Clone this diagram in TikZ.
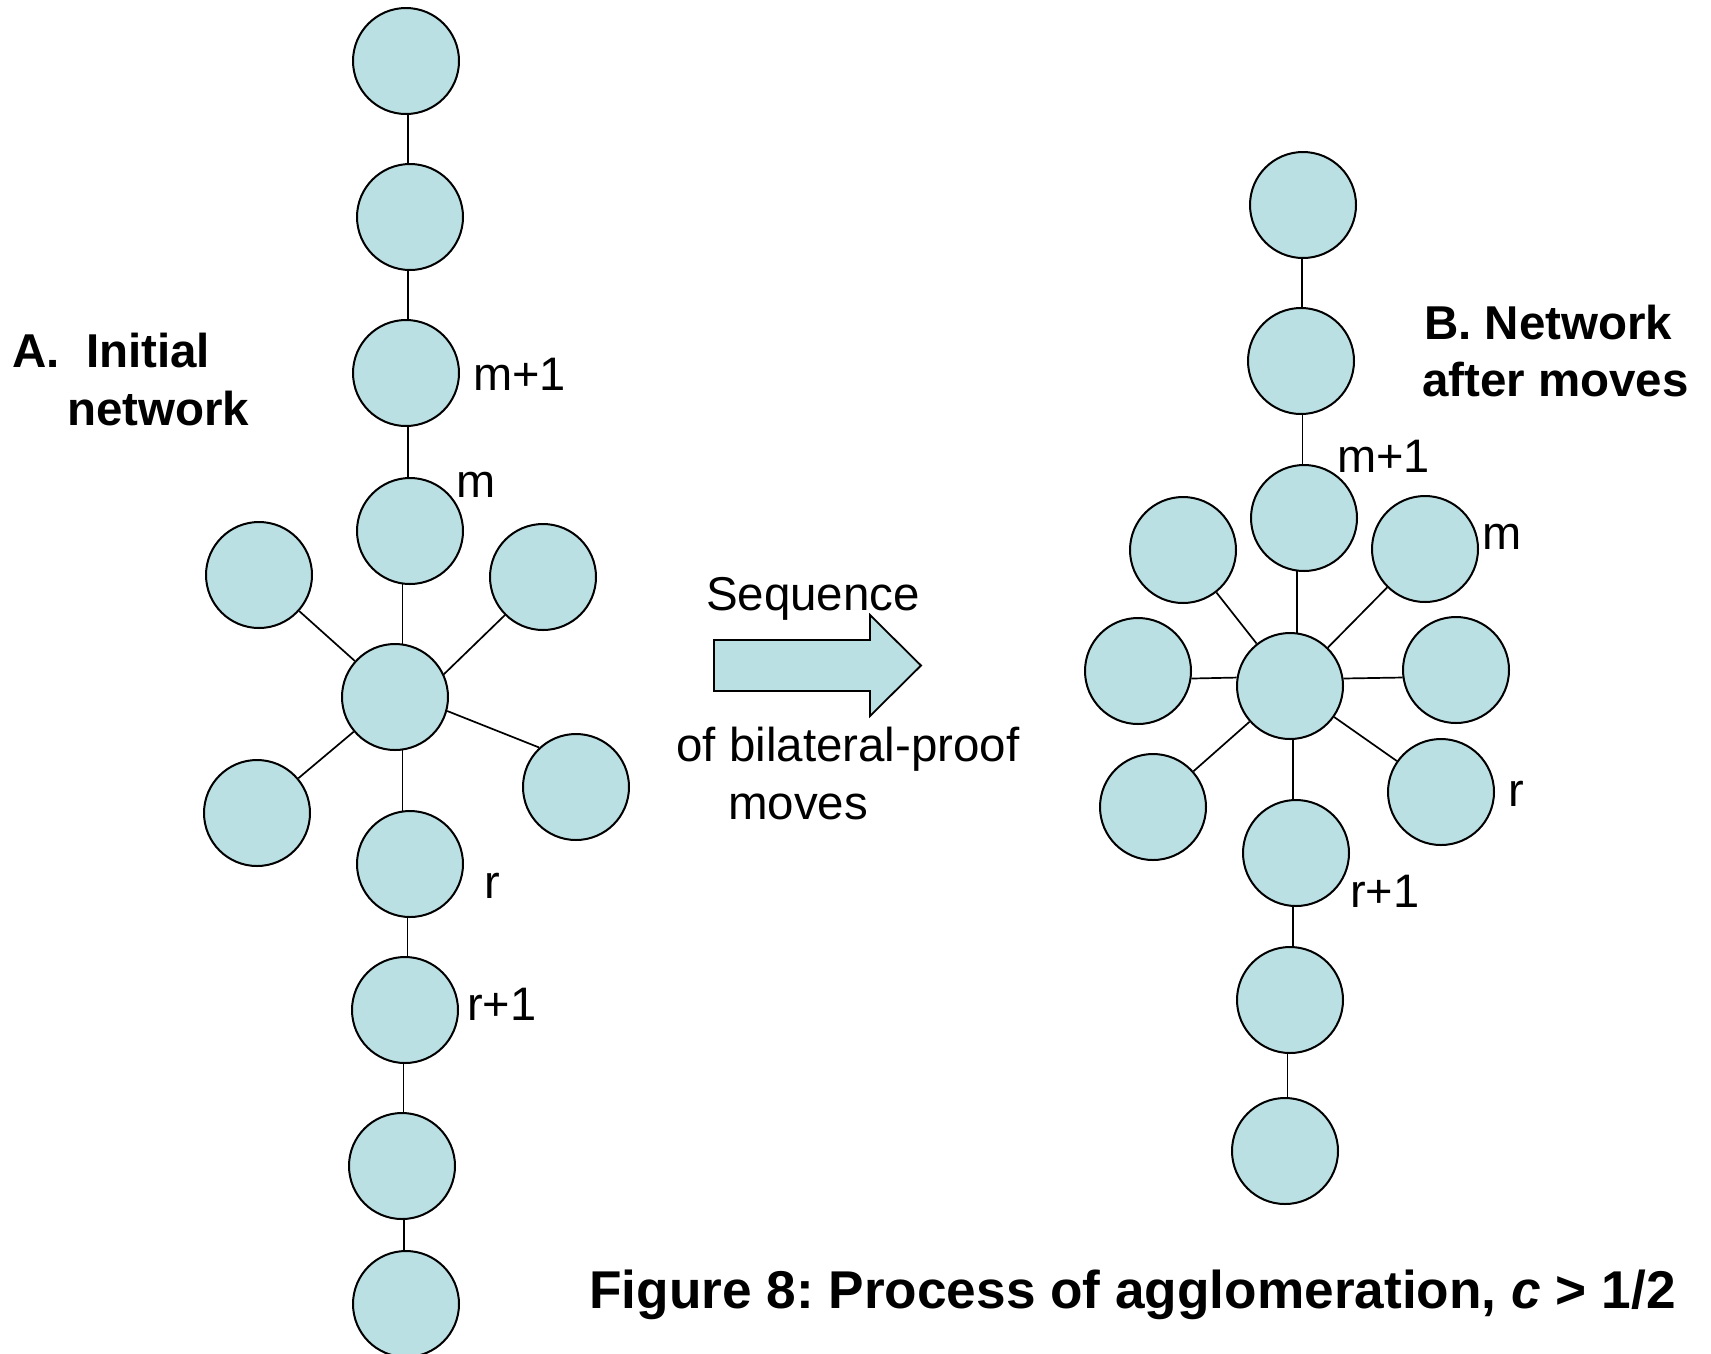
\documentclass[tikz,border=0pt]{standalone}
\usepackage{fontspec}
\setmainfont{Liberation Sans}
\usetikzlibrary{calc,backgrounds}
\definecolor{nodefill}{RGB}{187,224,227}
\newcommand\vlink[2]{%
  \path ($(#1)!.5!(#2)$) coordinate (vtmp);
  \draw[link] (vtmp |- #1) -- (vtmp |- #2);}
\frenchspacing
\begin{document}
\begin{tikzpicture}[x=1pt,y=-1pt,
  agent/.style={circle,draw=black,line width=2pt,fill=nodefill,minimum size=106pt,inner sep=0pt},
  link/.style={draw=black,line width=1.7pt},
  lbl/.style={anchor=base west,inner sep=0pt,font=\fontsize{47}{55}\selectfont},
  midlbl/.style={anchor=base,inner sep=0pt,font=\fontsize{47.5}{55}\selectfont},
  head/.style={anchor=base west,inner sep=0pt,font=\fontsize{47.5}{57}\selectfont\bfseries},
  capt/.style={anchor=base west,inner sep=0pt,font=\fontsize{53.2}{60}\selectfont\bfseries},
  bigarrow/.style={draw=black,line width=1.8pt,fill=nodefill,line join=miter}
]
\useasboundingbox (0,0) rectangle (1711,1353);

% ---- left network ----
\node[agent] (La1) at (406,61) {};
\node[agent] (La2) at (410,217) {};
\node[agent] (Lm1) at (406,373) {};
\node[agent] (Lm)  at (410,531) {};
\node[agent] (Lul) at (259,575) {};
\node[agent] (Lur) at (543,577) {};
\node[agent] (Lh)  at (395,697) {};
\node[agent] (Lll) at (257,813) {};
\node[agent] (Llr) at (576,787) {};
\node[agent] (Lr)  at (410,864) {};
\node[agent] (Lr1) at (405,1010) {};
\node[agent] (Lb1) at (402,1166) {};
\node[agent] (Lb2) at (406,1304) {};

% ---- right network ----
\node[agent] (Ra1) at (1303,205) {};
\node[agent] (Ra2) at (1301,361) {};
\node[agent] (Rm1) at (1304,518) {};
\node[agent] (Rul) at (1183,550) {};
\node[agent] (Rm)  at (1425,549) {};
\node[agent] (Rl)  at (1138,671) {};
\node[agent] (Rh)  at (1290,686) {};
\node[agent] (Rrt) at (1456,670) {};
\node[agent] (Rll) at (1153,807) {};
\node[agent] (Rr)  at (1441,792) {};
\node[agent] (Rr1) at (1296,853) {};
\node[agent] (Rb1) at (1290,1000) {};
\node[agent] (Rb2) at (1285,1151) {};

% ---- connectors (behind the circles) ----
\begin{scope}[on background layer]
  \fill[white] (0,0) rectangle (1711,1353);
  \vlink{La1}{La2}
  \vlink{La2}{Lm1}
  \vlink{Lm1}{Lm}
  \vlink{Lm}{Lh}
  \vlink{Lh}{Lr}
  \vlink{Lr}{Lr1}
  \vlink{Lr1}{Lb1}
  \vlink{Lb1}{Lb2}
  \draw[link] (Lh) -- (Lul);
  \draw[link] (Lh.25) -- (Lur.225);
  \draw[link] (Lh) -- (Lll);
  \draw[link] (Lh.345) -- (Llr.133);
  \vlink{Ra1}{Ra2}
  \vlink{Ra2}{Rm1}
  \vlink{Rm1}{Rh}
  \vlink{Rh}{Rr1}
  \vlink{Rr1}{Rb1}
  \vlink{Rb1}{Rb2}
  \draw[link] (Rh) -- (Rul);
  \draw[link] (Rh) -- (Rm);
  \draw[link] (Rh.171) -- (Rl.-8);
  \draw[link] (Rh.8) -- (Rrt.188);
  \draw[link] (Rh) -- (Rll);
  \draw[link] (Rh) -- (Rr);
\end{scope}

% ---- labels ----
\node[head] (tA1) at (12,367) {A.\ \ Initial};
\node[head] (tA2) at (67,425) {network};
\node[lbl] (tLm1) at (473,390) {m+1};
\node[lbl] (tLm)  at (456,497) {m};
\node[lbl] (tLr)  at (484,898) {r};
\node[lbl] (tLr1) at (467,1020) {r+1};

\node[head] (tB1) at (1424,339) {B. Network};
\node[head] (tB2) at (1422,396) {after moves};
\node[lbl] (tRm1) at (1337,472) {m+1};
\node[lbl] (tRm)  at (1482,549) {m};
\node[lbl] (tRr)  at (1508,806) {r};
\node[lbl] (tRr1) at (1350,907) {r+1};

% ---- central arrow ----
\draw[bigarrow] (714,640) -- (870,640) -- (870,615) -- (921,665.5)
  -- (870,716) -- (870,691) -- (714,691) -- cycle;
\node[midlbl] (tSeq) at (813,610) {Sequence};
\node[midlbl] (tOf)  at (848,761) {of bilateral-proof};
\node[midlbl] (tMov) at (798,819) {moves};

% ---- caption ----
\node[capt] (cap) at (589,1308) {Figure 8: Process of agglomeration, \textit{c} > 1/2};
\end{tikzpicture}
\end{document}
